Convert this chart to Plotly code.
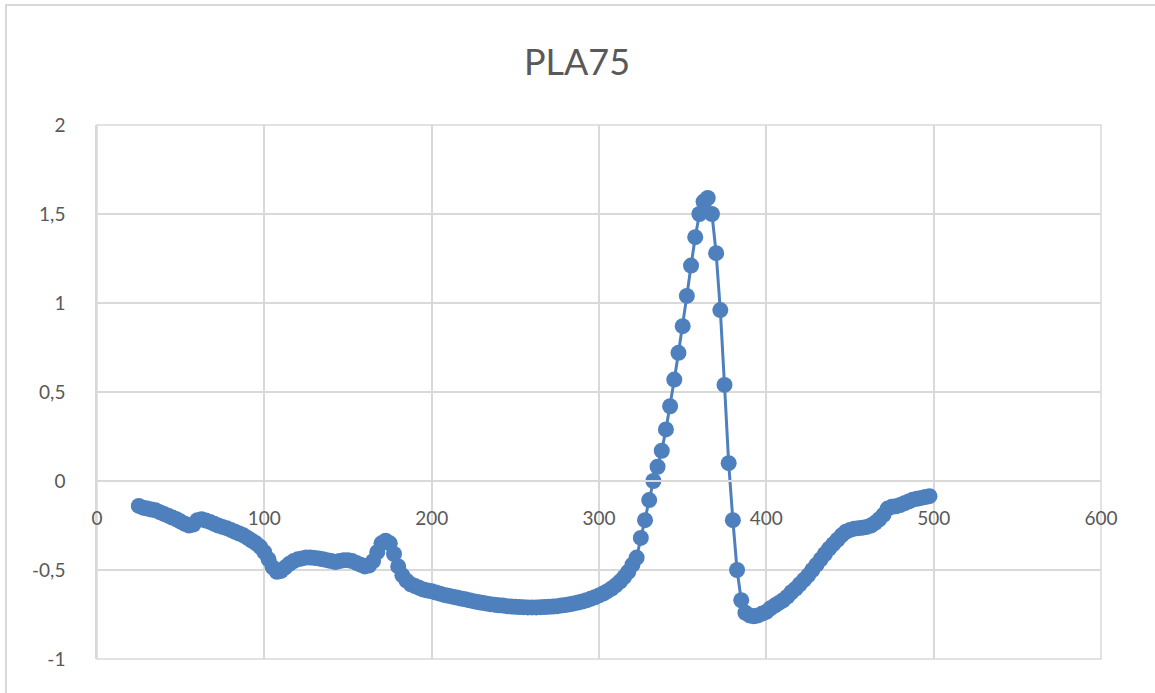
import plotly.graph_objects as go

title_text = "PLA75"

x_vals = [
    25.0, 27.5, 30.0, 32.5, 35.0, 37.5, 40.0, 42.5, 45.0, 47.5,
    50.0, 52.5, 55.0, 57.5, 60.0, 62.5, 65.0, 67.5, 70.0, 72.5,
    75.0, 77.5, 80.0, 82.5, 85.0, 87.5, 90.0, 92.5, 95.0, 97.5,
    100.0, 102.5, 105.0, 107.5, 110.0, 112.5, 115.0, 117.5, 120.0, 122.5,
    125.0, 127.5, 130.0, 132.5, 135.0, 137.5, 140.0, 142.5, 145.0, 147.5,
    150.0, 152.5, 155.0, 157.5, 160.0, 162.5, 165.0, 167.5, 170.0, 172.5,
    175.0, 177.5, 180.0, 182.5, 185.0, 187.5, 190.0, 192.5, 195.0, 197.5,
    200.0, 202.5, 205.0, 207.5, 210.0, 212.5, 215.0, 217.5, 220.0, 222.5,
    225.0, 227.5, 230.0, 232.5, 235.0, 237.5, 240.0, 242.5, 245.0, 247.5,
    250.0, 252.5, 255.0, 257.5, 260.0, 262.5, 265.0, 267.5, 270.0, 272.5,
    275.0, 277.5, 280.0, 282.5, 285.0, 287.5, 290.0, 292.5, 295.0, 297.5,
    300.0, 302.5, 305.0, 307.5, 310.0, 312.5, 315.0, 317.5, 320.0, 322.5,
    325.0, 327.5, 330.0, 332.5, 335.0, 337.5, 340.0, 342.5, 345.0, 347.5,
    350.0, 352.5, 355.0, 357.5, 360.0, 362.5, 365.0, 367.5, 370.0, 372.5,
    375.0, 377.5, 380.0, 382.5, 385.0, 387.5, 390.0, 392.5, 395.0, 397.5,
    400.0, 402.5, 405.0, 407.5, 410.0, 412.5, 415.0, 417.5, 420.0, 422.5,
    425.0, 427.5, 430.0, 432.5, 435.0, 437.5, 440.0, 442.5, 445.0, 447.5,
    450.0, 452.5, 455.0, 457.5, 460.0, 462.5, 465.0, 467.5, 470.0, 472.5,
    475.0, 477.5, 480.0, 482.5, 485.0, 487.5, 490.0, 492.5, 495.0, 497.5,
]

y_vals = [
    -0.140, -0.150, -0.155, -0.160, -0.165, -0.175, -0.185, -0.195, -0.205, -0.215,
    -0.228, -0.240, -0.250, -0.245, -0.220, -0.215, -0.222, -0.230, -0.240, -0.250,
    -0.258, -0.265, -0.275, -0.285, -0.295, -0.305, -0.320, -0.335, -0.350, -0.370,
    -0.400, -0.440, -0.485, -0.510, -0.505, -0.485, -0.465, -0.450, -0.440, -0.435,
    -0.430, -0.430, -0.432, -0.435, -0.440, -0.445, -0.450, -0.455, -0.450, -0.445,
    -0.445, -0.450, -0.460, -0.470, -0.480, -0.475, -0.450, -0.400, -0.350, -0.335,
    -0.350, -0.410, -0.480, -0.530, -0.560, -0.580, -0.590, -0.600, -0.610, -0.615,
    -0.620, -0.627, -0.633, -0.640, -0.645, -0.650, -0.655, -0.660, -0.665, -0.670,
    -0.675, -0.680, -0.684, -0.688, -0.692, -0.695, -0.698, -0.700, -0.703, -0.705,
    -0.707, -0.708, -0.709, -0.710, -0.710, -0.710, -0.709, -0.708, -0.707, -0.705,
    -0.703, -0.700, -0.697, -0.693, -0.688, -0.683, -0.677, -0.670, -0.662, -0.653,
    -0.643, -0.632, -0.619, -0.604, -0.586, -0.565, -0.540, -0.510, -0.470, -0.430,
    -0.320, -0.220, -0.107, 0.000, 0.080, 0.170, 0.290, 0.420, 0.570, 0.720,
    0.870, 1.040, 1.210, 1.370, 1.500, 1.570, 1.590, 1.500, 1.280, 0.960,
    0.540, 0.100, -0.220, -0.500, -0.670, -0.740, -0.755, -0.760, -0.755, -0.745,
    -0.735, -0.715, -0.700, -0.685, -0.670, -0.650, -0.625, -0.605, -0.580, -0.555,
    -0.530, -0.500, -0.470, -0.440, -0.410, -0.380, -0.355, -0.330, -0.305, -0.285,
    -0.275, -0.268, -0.265, -0.262, -0.258, -0.250, -0.235, -0.215, -0.190, -0.155,
    -0.145, -0.142, -0.135, -0.125, -0.115, -0.105, -0.100, -0.095, -0.090, -0.085,
]

x_tickvals = [0, 100, 200, 300, 400, 500, 600]
x_ticktext = ["0", "100", "200", "300", "400", "500", "600"]
y_tickvals = [-1, -0.5, 0, 0.5, 1, 1.5, 2]
y_ticktext = ["-1", "-0,5", "0", "0,5", "1", "1,5", "2"]

blue = "#4E80BD"
grid = "#D9D9D9"
txt = "#595959"

fig = go.Figure()
fig.add_trace(go.Scatter(
    x=x_vals, y=y_vals, mode="lines+markers",
    line=dict(color=blue, width=3),
    marker=dict(color=blue, size=16),
    showlegend=False,
))

fig.update_layout(
    width=1155, height=693, autosize=False,
    margin=dict(l=97, r=54, t=125, b=34),
    paper_bgcolor="white", plot_bgcolor="white",
    font=dict(family="Lato, 'Open Sans', sans-serif", color=txt, size=19),
    title=dict(text=title_text, x=577 / 1155, xref="container", xanchor="center",
               y=1 - 62 / 693, yref="container", yanchor="middle",
               font=dict(size=36, color=txt, family="Lato, 'Open Sans', sans-serif")),
    xaxis=dict(range=[0, 600], tickvals=x_tickvals, ticktext=x_ticktext,
               showgrid=True, gridcolor=grid, gridwidth=1.5, zeroline=False,
               showline=True, linecolor=grid, linewidth=1.5,
               anchor="free", position=1/3,
               ticks="outside", ticklen=20, tickcolor="rgba(0,0,0,0)"),
    yaxis=dict(range=[-1, 2], tickvals=y_tickvals, ticktext=y_ticktext,
               showgrid=True, gridcolor=grid, gridwidth=1.5, zeroline=False,
               showline=True, linecolor=grid, linewidth=1.5,
               ticks="outside", ticklen=26, tickcolor="rgba(0,0,0,0)"),
    shapes=[
        dict(type="rect", xref="paper", yref="paper", x0=0, x1=1, y0=0, y1=1,
             line=dict(color=grid, width=1.5), layer="below"),
        dict(type="rect", xref="paper", yref="paper",
             x0=(6 - 97) / 1004, x1=(1175 - 97) / 1004,
             y0=(659 - 710) / 534, y1=(659 - 5) / 534,
             line=dict(color=grid, width=2), layer="below"),
    ],
)

fig.write_html("out.html", config={"displayModeBar": False},
               post_script="document.body.style.margin='0';")
